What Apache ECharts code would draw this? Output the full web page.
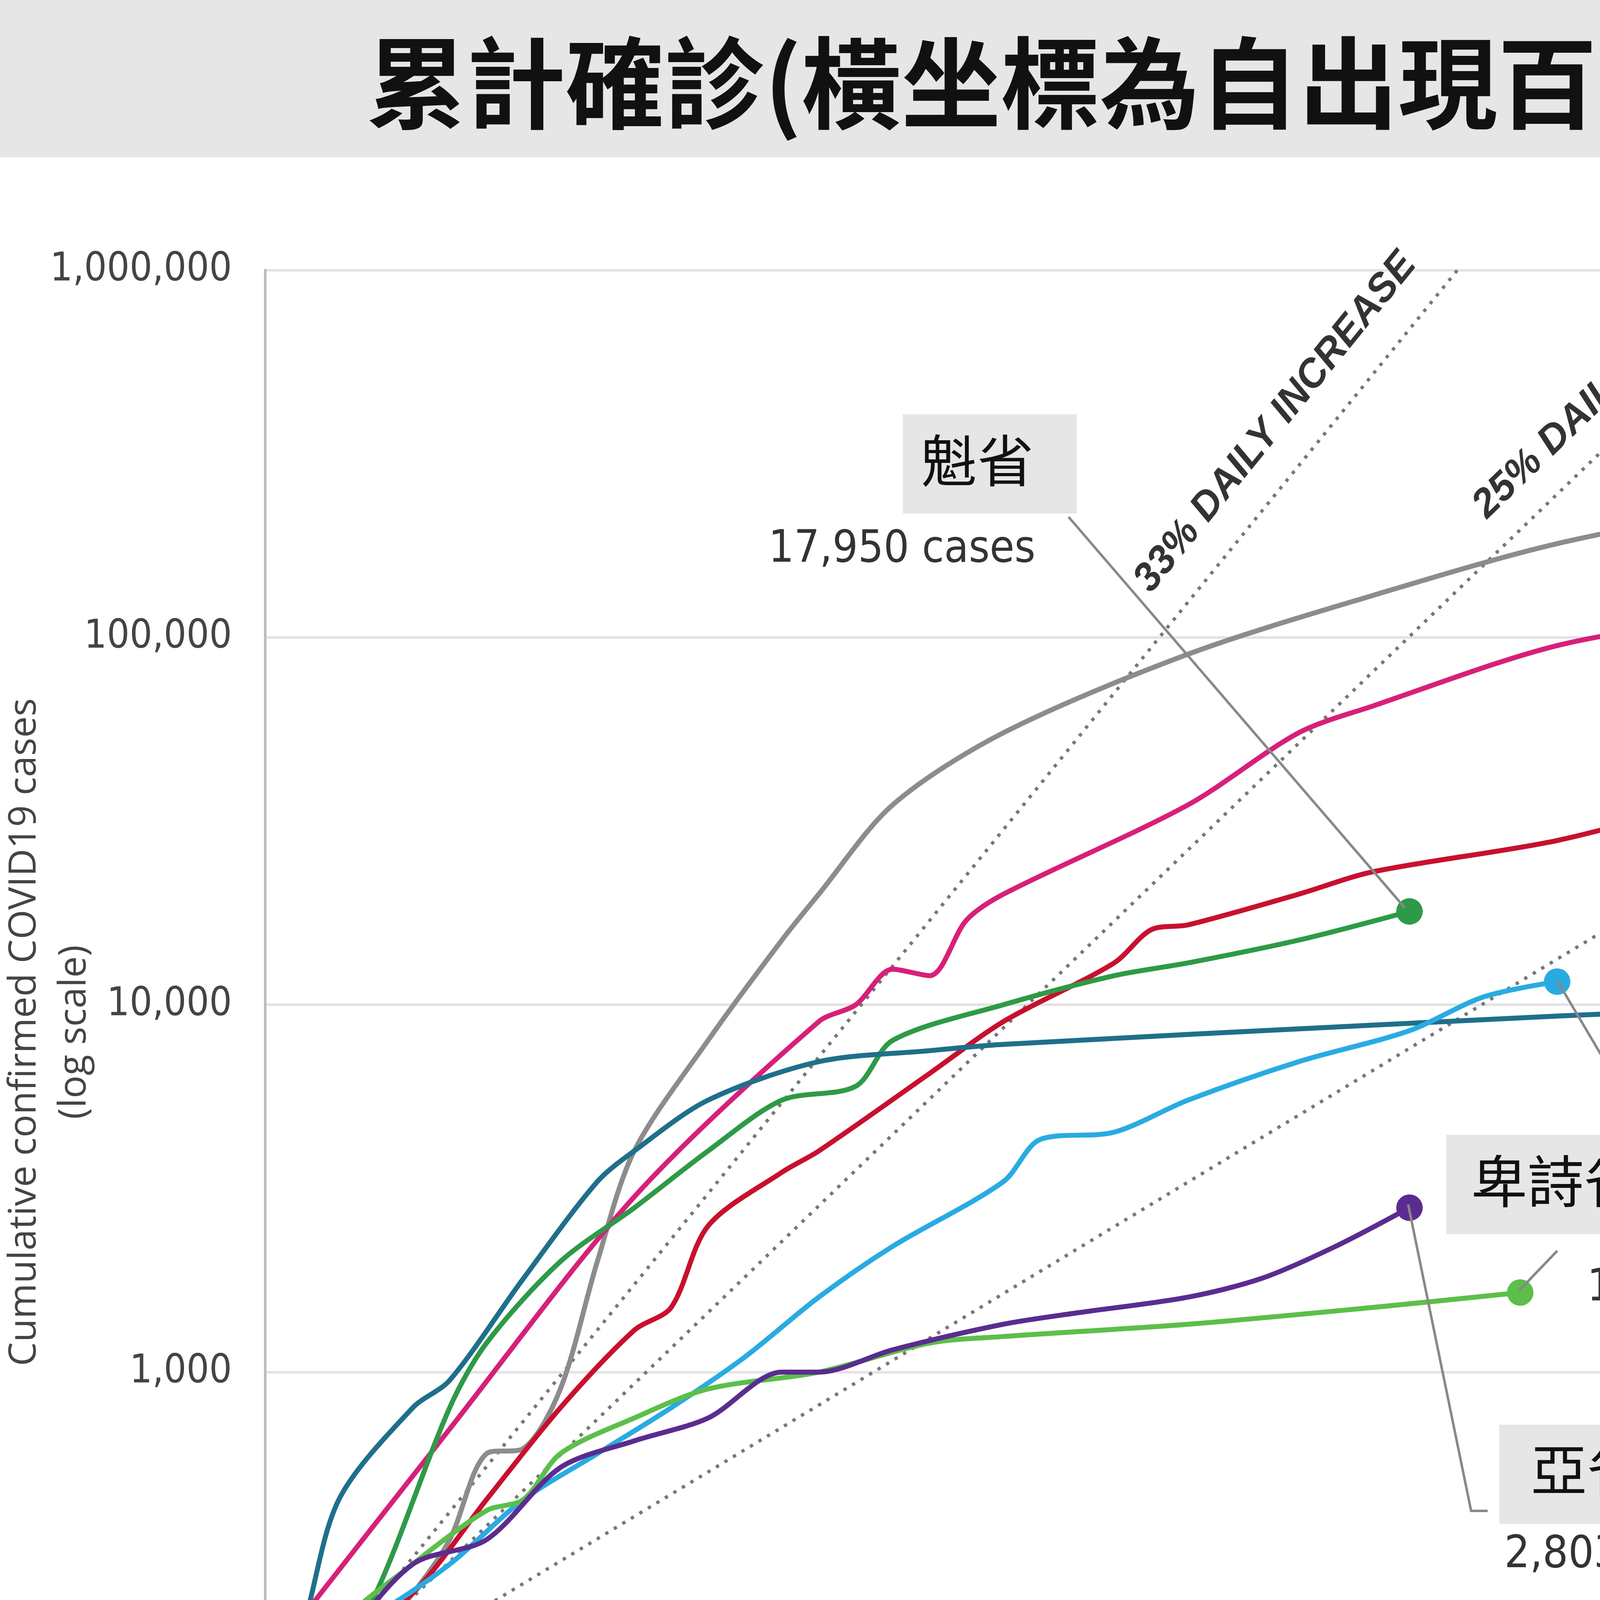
<!DOCTYPE html>
<html><head><meta charset="utf-8">
<script src="https://cdn.jsdelivr.net/npm/echarts@6/dist/echarts.min.js"></script>
<style>html,body{margin:0;padding:0;background:#fff}#c{width:6650px;height:5395px}</style>
</head><body><div id="c"></div>
<script>
const xTicks=[0,5,10,15,20,25,30,35,40,45,50,55,60];
const yTicks=[100,1000,10000,100000,1000000];
const newYork=[[0,110],[2,150],[4,250],[5,350],[6,600],[7,620],[8,900],[9,2000],[10,4000],[12,8000],[14,15000],[15,20000],[17,35000],[20,55000],[25,90000],[30,130000],[35,180000],[42,247815]];
const italy=[[0,160],[5,700],[10,3000],[15,9000],[16,10000],[17,12500],[18,12000],[19,17000],[20,20000],[25,35000],[28,55000],[30,65000],[35,95000],[40,115000],[45,135000],[50,155000],[56,178972]];
const canada=[[0,110],[2,180],[4,250],[6,450],[8,800],[10,1300],[11,1500],[12,2500],[14,3500],[15,4000],[18,6500],[20,9000],[23,13000],[24,16000],[25,16500],[28,20000],[30,23000],[35,28000],[39,35632]];
const quebec=[[0,110],[1,110],[3,250],[5,800],[6,1200],[8,2000],[10,2800],[12,4000],[14,5500],[16,6000],[17,8000],[20,10000],[23,12000],[25,13000],[28,15000],[31,17950]];
const korea=[[0,120],[1,200],[2,450],[4,800],[5,950],[7,1800],[9,3300],[10,4000],[12,5500],[15,7000],[18,7500],[20,7800],[30,8800],[40,9800],[50,10400],[59,10661]];
const ontario=[[0,110],[1,180],[3,220],[5,300],[7,450],[9,600],[11,800],[13,1100],[15,1600],[17,2200],[20,3300],[21,4300],[23,4500],[25,5500],[28,7000],[31,8500],[33,10500],[35,11561]];
const bc=[[0,100],[1,100],[2,200],[4,300],[6,420],[7,450],[8,600],[10,750],[12,900],[15,1000],[18,1200],[20,1250],[25,1350],[30,1500],[34,1647]];
const alberta=[[0,110],[2,180],[4,300],[6,350],[8,550],[10,650],[12,750],[14,1000],[15,1000],[17,1150],[20,1350],[22,1450],[25,1600],[27,1800],[29,2200],[31,2803]];
const line33=[[0,100],[32.3,1000000]];
const line25=[[0,100],[41.3,1000000]];
const line15=[[0,100],[60,438000]];

const S=6650/1568;const P=v=>v*S;
const CJK='"Noto Sans CJK TC","Noto Sans CJK SC",sans-serif';
const NAR='"Liberation Sans Narrow","DejaVu Sans Condensed",sans-serif';
function ser(d,color){
  return {type:'line',smooth:0.3,showSymbol:true,symbol:'none',lineStyle:{color,width:P(3)},itemStyle:{color},
    data:d.map((p,i)=>i===d.length-1?{value:p,symbol:'circle',symbolSize:P(16)}:{value:p}),z:3};
}
function ref(d){return {type:'line',symbol:'none',data:d,lineStyle:{color:'#777',width:P(2),type:[P(2),P(4)]},z:2};}
const g=[];
function box(x,y,w,h){g.push({type:'rect',shape:{x:P(x),y:P(y),width:P(w),height:P(h)},style:{fill:'#e6e6e6'}});}
function txt(t,x,y,fs,opt={}){g.push({type:'text',x:P(x),y:P(y),rotation:opt.rot||0,z:10,style:{text:t,fontSize:P(fs),fontFamily:opt.ff||CJK,fontWeight:opt.fw||'normal',fontStyle:opt.fst||'normal',fill:opt.fill||'#111',textAlign:opt.align||'left',textVerticalAlign:'middle'}});}
function lead(pts){g.push({type:'polyline',shape:{points:pts.map(p=>[P(p[0]),P(p[1])])},style:{stroke:'#888',lineWidth:P(1.5),fill:null},z:9});}

box(0,0,1568,95);
txt('累計確診(橫坐標為自出現百宗病例的天數)',784,50,60,{fw:'bold',align:'center'});
// annotations
box(1115,146,115,60);txt('紐約',1162,176,34,{align:'center'});txt('247,815 cases',1120,233,27,{ff:NAR,fill:'#333'});lead([[1095,295],[1100,210],[1112,210]]);
box(545,250,105,60);txt('魁省',590,278,34,{align:'center'});txt('17,950 cases',625,332,27,{ff:NAR,fill:'#333',align:'right'});lead([[645,312],[848,548]]);
box(1387,378,140,67);txt('意大利',1455,408,34,{align:'center'});txt('178,972 cases',1440,472,27,{ff:NAR,fill:'#333'});lead([[1407,327],[1413,440],[1428,445]]);
box(1075,483,140,57);txt('加拿大',1143,511,34,{align:'center'});txt('35,632 cases',1072,569,27,{ff:NAR,fill:'#333'});lead([[1030,482],[1055,545],[1068,545]]);
box(1015,623,93,57);txt('安省',1061,652,34,{align:'center'});txt('11,561 cases',1015,709,27,{ff:NAR,fill:'#333'});lead([[940,592],[995,685]]);
box(1305,662,97,60);txt('韓國',1350,691,34,{align:'center'});txt('10,661 cases',1258,746,27,{ff:NAR,fill:'#333'});lead([[1475,600],[1425,720],[1413,720]]);
box(873,685,132,60);txt('卑詩省',939,713,34,{align:'center'});txt('1,647 cases',958,778,27,{ff:NAR,fill:'#333'});lead([[917,779],[940,755]]);
box(905,860,107,60);txt('亞省',958,887,34,{align:'center'});txt('2,803 cases',908,939,27,{ff:NAR,fill:'#333'});lead([[850,727],[888,912],[898,912]]);
// reference line labels
txt('33% DAILY INCREASE',770,255,24,{ff:'"Liberation Sans",sans-serif',fw:'bold',fst:'italic',fill:'#333',align:'center',rot:51*Math.PI/180});
txt('25% DAILY INCREASE',985,220,24,{ff:'"Liberation Sans",sans-serif',fw:'bold',fst:'italic',fill:'#333',align:'center',rot:44*Math.PI/180});
txt('15% DAILY INCREASE',1445,253,24,{ff:'"Liberation Sans",sans-serif',fw:'bold',fst:'italic',fill:'#333',align:'center',rot:30.6*Math.PI/180});
// bottom
txt('↳',172,1135,32,{ff:'"DejaVu Sans",sans-serif'});
box(197,1108,131,55);txt('日增幅',262,1136,32,{align:'center'});
box(600,1108,383,62);txt('出現百宗病例的日期：',612,1138,32);
box(1058,1105,327,160);
['加拿大：3月11日','安省：3月15日','卑詩省：3月16日','亞省和魁省：3月19日'].forEach((t,i)=>txt(t,1066,1129+i*38,29));
box(0,1210,357,60);txt('資料來源：安省政府',10,1238,32);
txt('Cumulative confirmed COVID19 cases',15,623,23,{ff:'"Open Sans",sans-serif',fill:'#444',align:'center',rot:Math.PI/2});
txt('(log scale)',45,623,23,{ff:'"Open Sans",sans-serif',fill:'#444',align:'center',rot:Math.PI/2});

const chart=echarts.init(document.getElementById('c'));
chart.setOption({
  backgroundColor:'#fff',animation:false,
  grid:{left:P(160),right:6650-P(1497),top:P(163),bottom:5395-P(1050)},
  xAxis:{type:'value',min:0,max:60,interval:5,axisLine:{lineStyle:{color:'#bbb',width:P(1.5)}},axisTick:{show:true,length:P(8),lineStyle:{color:'#bbb',width:P(1.5)}},
    axisLabel:{fontSize:P(24),fontFamily:NAR,color:'#444',margin:P(18)},splitLine:{show:false}},
  yAxis:{type:'log',min:100,max:1000000,logBase:10,axisLine:{show:true,lineStyle:{color:'#bbb',width:P(1.5)}},axisTick:{show:false},
    axisLabel:{fontSize:P(24),fontFamily:NAR,color:'#444',margin:P(20),formatter:v=>Math.round(v).toLocaleString('en-US')},
    splitLine:{lineStyle:{color:'#e3e3e3',width:P(1.5)}}},
  series:[ref(line33),ref(line25),ref(line15),
    ser(newYork,'#8c8c8c'),ser(italy,'#d6207a'),ser(canada,'#c8102e'),ser(quebec,'#2e9a47'),
    ser(korea,'#1f6f8b'),ser(ontario,'#29abe2'),ser(bc,'#5cbf4a'),ser(alberta,'#5b2c8f')],
  graphic:g
});
</script></body></html>
